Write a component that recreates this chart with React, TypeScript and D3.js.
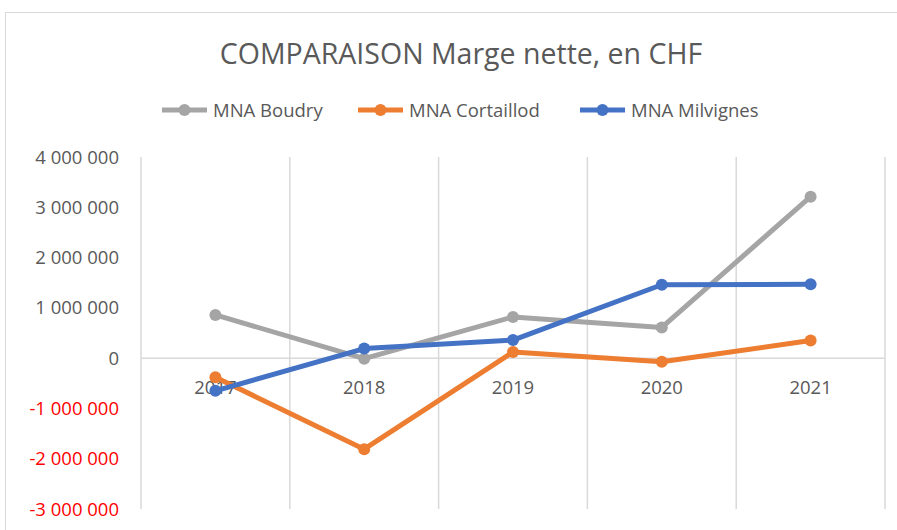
import React, { useEffect, useRef } from "react";
import * as d3 from "d3";

const years = ["2017", "2018", "2019", "2020", "2021"];
const boudry = [860000, -10000, 820000, 610000, 3210000];
const cortaillod = [-380000, -1810000, 120000, -70000, 350000];
const milvignes = [-650000, 190000, 360000, 1460000, 1470000];
const seriesNames = ["MNA Boudry", "MNA Cortaillod", "MNA Milvignes"];
const seriesColors = ["#A5A5A5", "#ED7D31", "#4472C4"];
const yTicks = [4000000, 3000000, 2000000, 1000000, 0, -1000000, -2000000, -3000000];

const W = 897;
const H = 530;
const FONT = "'Open Sans', 'Liberation Sans', sans-serif";

const fmt = (v: number) => {
    if (v === 0) return "0";
    const s = Math.abs(v).toString().replace(/\B(?=(\d{3})+(?!\d))/g, " ");
    return (v < 0 ? "-" : "") + s;
};

const App = (): JSX.Element => {
    const ref = useRef<SVGSVGElement>(null);

    useEffect(() => {
        if (!ref.current) return;
        const svg = d3.select(ref.current);
        svg.selectAll("*").remove();

        const x = d3.scaleBand().domain(years).range([141, 885]);
        const y = d3.scaleLinear().domain([-3000000, 4000000]).range([509, 157]);

        // chart frame
        svg.append("rect")
            .attr("x", 5.5).attr("y", 12.5)
            .attr("width", W).attr("height", H)
            .attr("fill", "white").attr("stroke", "#D9D9D9");

        // title
        svg.append("text")
            .attr("x", 461).attr("y", 64)
            .attr("text-anchor", "middle")
            .attr("font-family", FONT).attr("font-size", 28.5)
            .attr("fill", "#595959")
            .text("COMPARAISON Marge nette, en CHF");

        // vertical grid
        const edges = years.map((d) => x(d) as number).concat([x.range()[1]]);
        svg.append("g").selectAll("line").data(edges).join("line")
            .attr("x1", (d) => d).attr("x2", (d) => d)
            .attr("y1", y(4000000)).attr("y2", y(-3000000))
            .attr("stroke", "#D9D9D9").attr("stroke-width", 1.5);

        // zero line
        svg.append("line")
            .attr("x1", x.range()[0]).attr("x2", x.range()[1])
            .attr("y1", y(0)).attr("y2", y(0))
            .attr("stroke", "#D9D9D9").attr("stroke-width", 1.5);

        // y labels
        svg.append("g").selectAll("text").data(yTicks).join("text")
            .attr("x", 119).attr("y", (d) => y(d) + 6.5)
            .attr("text-anchor", "end")
            .attr("font-family", FONT).attr("font-size", 18.5)
            .attr("fill", (d) => (d < 0 ? "#FF0000" : "#595959"))
            .text((d) => fmt(d));

        // x labels
        svg.append("g").selectAll("text").data(years).join("text")
            .attr("x", (d) => (x(d) as number) + x.bandwidth() / 2)
            .attr("y", y(0) + 36)
            .attr("text-anchor", "middle")
            .attr("font-family", FONT).attr("font-size", 18.5)
            .attr("fill", "#595959")
            .text((d) => d);

        // lines
        const all = [boudry, cortaillod, milvignes];
        const line = d3.line<number>()
            .x((d, i) => (x(years[i]) as number) + x.bandwidth() / 2)
            .y((d) => y(d));
        all.forEach((vals, k) => {
            const g = svg.append("g");
            g.append("path")
                .attr("d", line(vals))
                .attr("fill", "none")
                .attr("stroke", seriesColors[k])
                .attr("stroke-width", 5)
                .attr("stroke-linejoin", "round")
                .attr("stroke-linecap", "round");
            g.selectAll("circle").data(vals).join("circle")
                .attr("cx", (d, i) => (x(years[i]) as number) + x.bandwidth() / 2)
                .attr("cy", (d) => y(d))
                .attr("r", 6)
                .attr("fill", seriesColors[k]);
        });

        // legend
        const legendX = [162, 358, 580];
        const lg = svg.append("g");
        seriesNames.forEach((name, k) => {
            const lx = legendX[k];
            lg.append("line")
                .attr("x1", lx).attr("x2", lx + 45)
                .attr("y1", 110).attr("y2", 110)
                .attr("stroke", seriesColors[k]).attr("stroke-width", 5);
            lg.append("circle")
                .attr("cx", lx + 22.5).attr("cy", 110).attr("r", 6)
                .attr("fill", seriesColors[k]);
            lg.append("text")
                .attr("x", lx + 51).attr("y", 117)
                .attr("font-family", FONT).attr("font-size", 18.5)
                .attr("fill", "#595959")
                .text(name);
        });
    }, []);

    return (
        <svg
            ref={ref}
            width={W}
            height={H}
            style={{ position: "absolute", left: 0, top: 0, display: "block" }}
        />
    );
};

export default App;
